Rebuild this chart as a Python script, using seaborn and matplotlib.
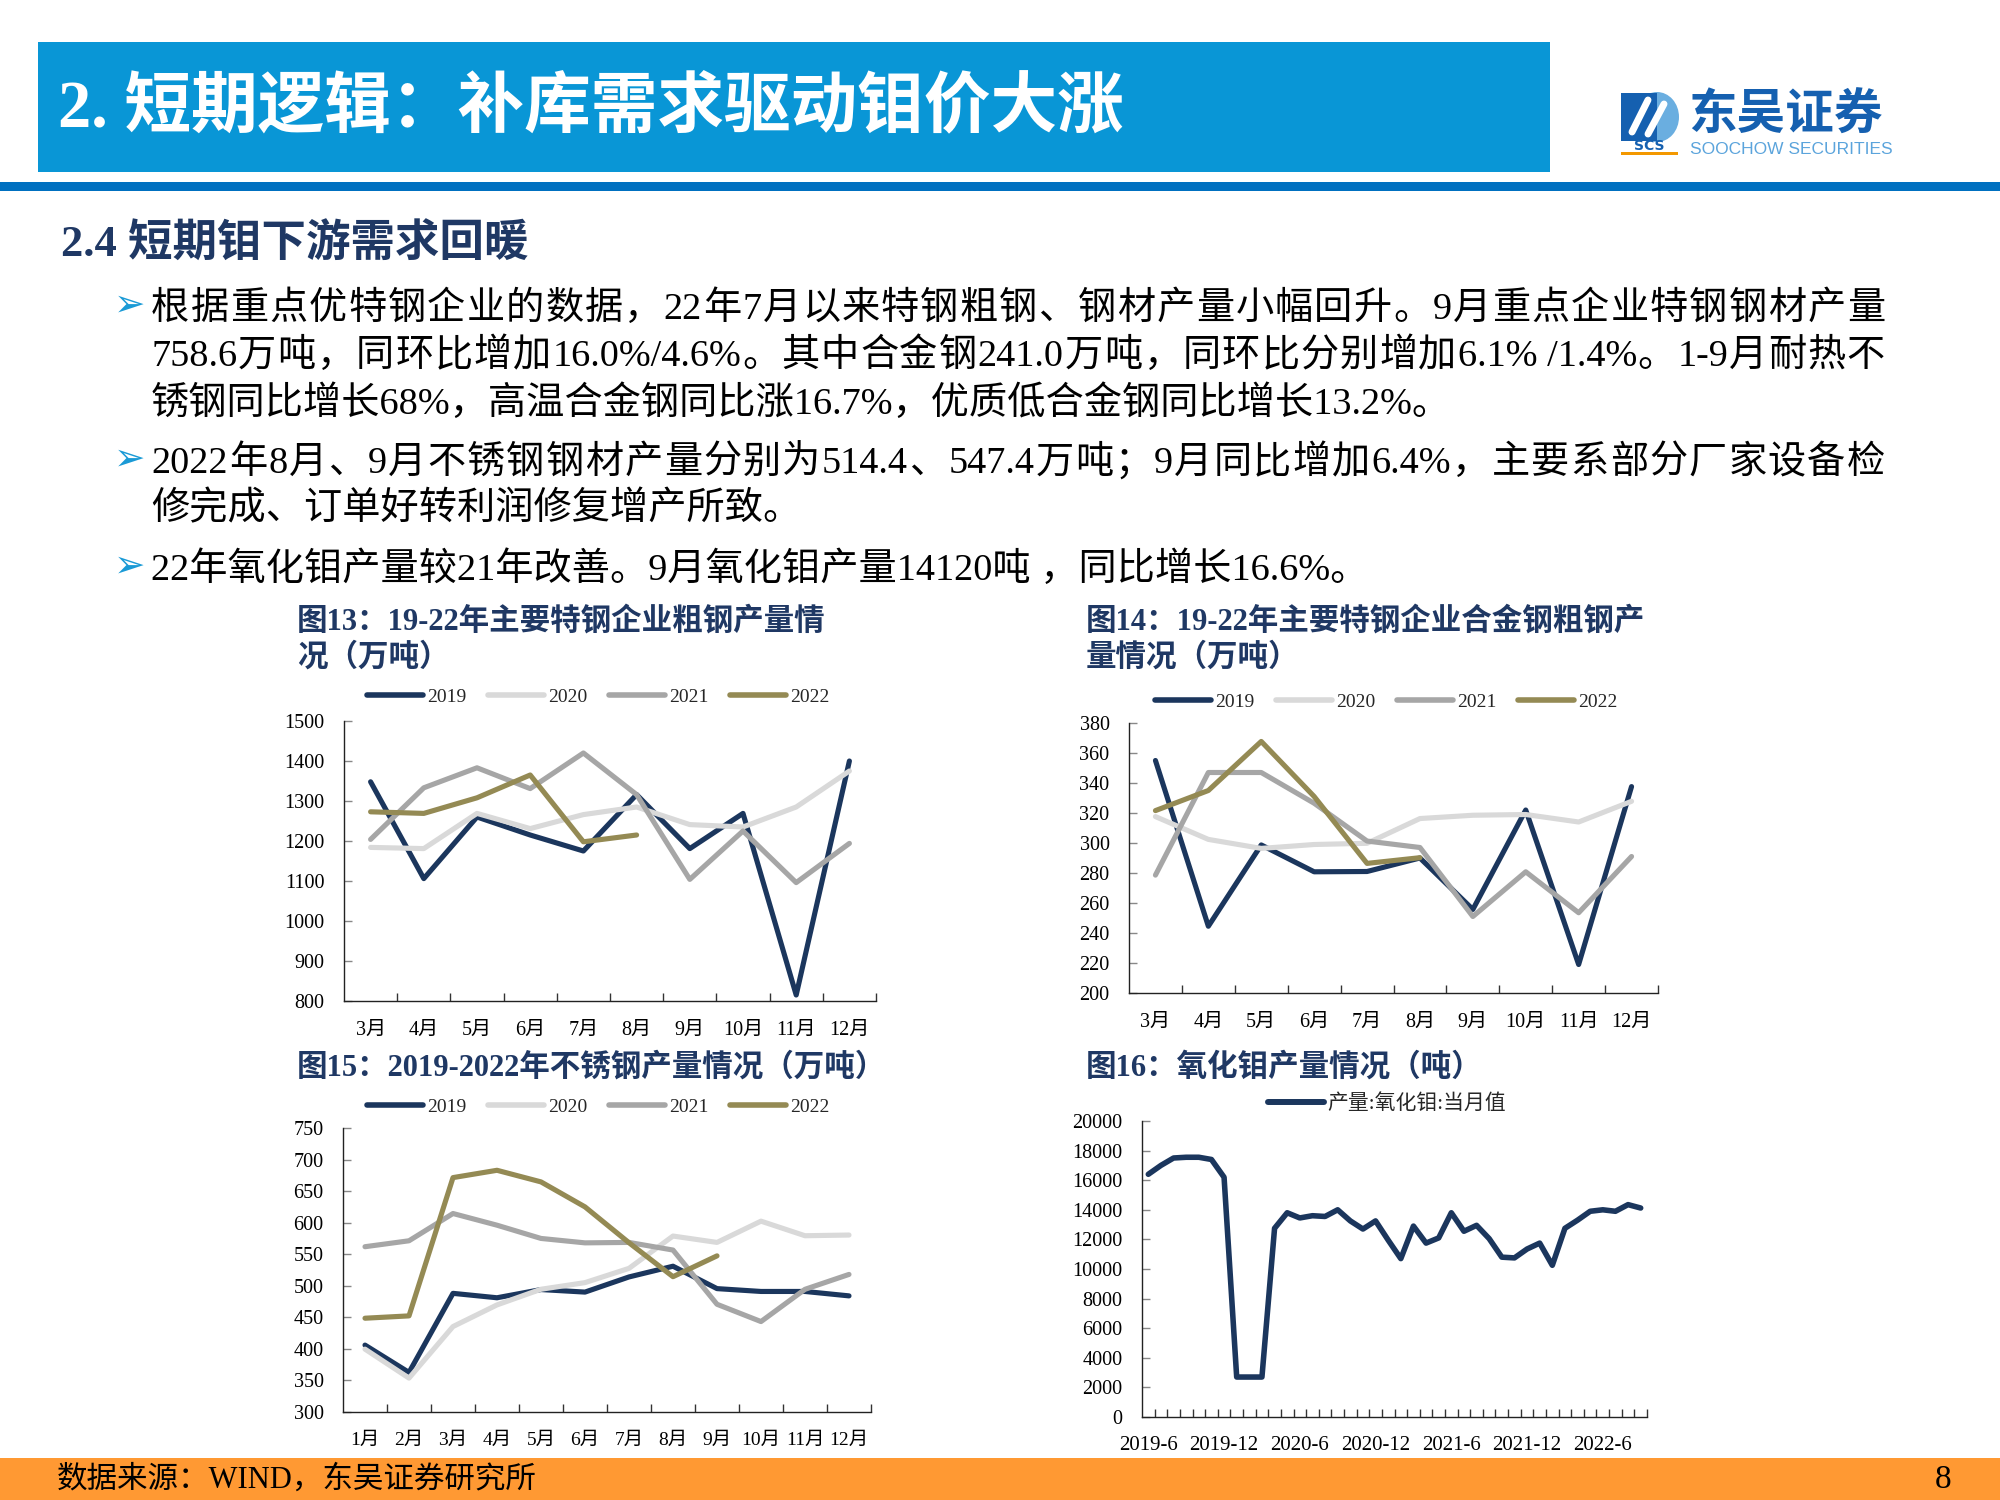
import re
import numpy as np
import pandas as pd
import matplotlib
matplotlib.use('Agg')
import matplotlib.pyplot as plt
import seaborn as sns
from matplotlib.font_manager import FontProperties
from matplotlib.patches import Rectangle, Ellipse
from matplotlib.lines import Line2D

sns.set_theme(style='white')
FAM = ['Liberation Serif', 'Noto Sans CJK SC', 'DejaVu Sans']
plt.rcParams['font.family'] = FAM
plt.rcParams['axes.unicode_minus'] = False

# ---------------- data ----------------
years = ['2019', '2020', '2021', '2022']
year_colors = {'2019': '#1B365D', '2020': '#D9D9D9', '2021': '#A6A6A6', '2022': '#948A54'}

months_mar_dec = ['3月', '4月', '5月', '6月', '7月', '8月', '9月', '10月', '11月', '12月']
crude_2019 = [1348, 1106, 1260, 1215, 1175, 1316, 1181, 1269, 815, 1400]
crude_2020 = [1184, 1181, 1269, 1231, 1266, 1285, 1241, 1235, 1285, 1375]
crude_2021 = [1204, 1333, 1383, 1331, 1420, 1316, 1104, 1225, 1096, 1194]
crude_2022 = [1273, 1269, 1308, 1365, 1198, 1215]

alloy_2019 = [355, 244.5, 298.7, 280.8, 281, 290, 255.7, 322, 219, 337.6]
alloy_2020 = [317.6, 302.4, 296.4, 299, 299.8, 316.3, 318.5, 319, 314, 327.8]
alloy_2021 = [278.6, 347, 347, 326.5, 301.3, 297, 251, 280.8, 253.5, 291]
alloy_2022 = [321.6, 335, 367.7, 331, 286.4, 290.2]

months_jan_dec = ['1月', '2月', '3月', '4月', '5月', '6月', '7月', '8月', '9月', '10月', '11月', '12月']
stainless_2019 = [406, 362.7, 488, 481, 494, 490, 514, 531, 495.5, 491, 491, 484]
stainless_2020 = [399.6, 353.7, 435.4, 469.7, 494.5, 505, 527.6, 578.8, 568.7, 602.4, 579.3, 580.4]
stainless_2021 = [561.9, 571.3, 614.5, 596, 575, 568, 568.7, 556.6, 470.7, 443.3, 494.4, 518]
stainless_2022 = [448.6, 452.3, 671.4, 683, 664.6, 625, 568.2, 514.4, 547.4]

moo3_months = [str(p) for p in pd.period_range('2019-06', '2022-09', freq='M')]
moo3_output = [16400, 17000, 17500, 17550, 17550, 17400, 16200, 2700, 2700, 2700,
               12750, 13800, 13450, 13600, 13550, 14000, 13250, 12700, 13250, 11950,
               10700, 12900, 11750, 12100, 13800, 12550, 12950, 12050, 10800, 10750,
               11350, 11750, 10250, 12750, 13300, 13900, 14000, 13900, 14350, 14120]
moo3_tick_labels = ['2019-6', '2019-12', '2020-6', '2020-12', '2021-6', '2021-12', '2022-6']
moo3_tick_months = ['2019-06', '2019-12', '2020-06', '2020-12', '2021-06', '2021-12', '2022-06']

# ---------------- figure ----------------
W, H = 2000, 1500
fig = plt.figure(figsize=(20, 15), dpi=100)
fig.patch.set_facecolor('white')


def fx(x):
    return x / W


def fy(y):
    return 1 - y / H


def rect(l, t, r, b):
    return [l / W, 1 - b / H, (r - l) / W, (b - t) / H]


NAVY_T = '#1F3864'

# header
fig.add_artist(Rectangle((fx(38), fy(172)), (1550 - 38) / W, (172 - 42) / H,
                         transform=fig.transFigure, color='#0996D6', lw=0))
fig.add_artist(Rectangle((0, fy(191)), 1, 9 / H, transform=fig.transFigure,
                         color='#0070C0', lw=0))
fig.text(fx(58), fy(108), '2. 短期逻辑：补库需求驱动钼价大涨', fontsize=48,
         color='white', weight='bold', va='center', ha='left')

# logo
fig.add_artist(Ellipse((fx(1657), fy(117)), 44 / W, 50 / H, transform=fig.transFigure,
                       color='#6AAEE0', lw=0))
fig.add_artist(Rectangle((fx(1621), fy(141)), 36 / W, 48 / H, transform=fig.transFigure,
                         color='#1560B0', lw=0))
fig.add_artist(Line2D([fx(1632), fx(1648)], [fy(132), fy(100)], transform=fig.transFigure,
                      color='white', lw=5, solid_capstyle='round'))
fig.add_artist(Line2D([fx(1648), fx(1664)], [fy(134), fy(104)], transform=fig.transFigure,
                      color='white', lw=5, solid_capstyle='round'))
fig.text(fx(1649), fy(146), 'SCS', fontsize=10, weight='bold', color='#1560B0',
         ha='center', va='center', family=['DejaVu Sans'])
fig.add_artist(Rectangle((fx(1621), fy(155)), 57 / W, 3 / H, transform=fig.transFigure,
                         color='#F39800', lw=0))
fig.text(fx(1688), fy(115), '东吴证券', fontsize=35, weight='bold', color='#1560B0',
         ha='left', va='center', family=['Noto Sans CJK SC'])
fig.text(fx(1690), fy(149), 'SOOCHOW SECURITIES', fontsize=12.5, color='#5BA4DC',
         ha='left', va='center', family=['Liberation Sans', 'DejaVu Sans'])

# section heading
fig.text(fx(61), fy(257), '2.4 短期钼下游需求回暖', fontsize=32, weight='bold',
         color=NAVY_T, va='baseline', ha='left')

BODY = 27.5
renderer = fig.canvas.get_renderer()
body_prop = FontProperties(family=FAM, size=BODY)


def tw(s):
    return renderer.get_text_width_height_descent(s, body_prop, ismath=False)[0]


def body_line(text, x0, base, x1=None):
    if x1 is None:
        fig.text(fx(x0), fy(base), text, fontsize=BODY, color='black',
                 va='baseline', ha='left')
        return
    tokens = re.findall(r'[\x00-\x7f]+|[^\x00-\x7f]', text)
    total = tw(text)
    extra = (x1 - x0 - total) / (len(tokens) - 1)
    acc = ''
    for j, tok in enumerate(tokens):
        xj = x0 + (tw(acc) if acc else 0) + j * extra
        fig.text(fx(xj), fy(base), tok, fontsize=BODY, color='black',
                 va='baseline', ha='left')
        acc += tok


def bullet(center_y):
    fig.text(fx(114), fy(center_y), '➢', fontsize=27, color='#1A9AD6',
             va='center', ha='left', family=['DejaVu Sans'])


TX0, TX1 = 151, 1885
bullet(306)
body_line('根据重点优特钢企业的数据，22年7月以来特钢粗钢、钢材产量小幅回升。9月重点企业特钢钢材产量', TX0, 319, TX1)
body_line('758.6万吨，同环比增加16.0%/4.6%。其中合金钢241.0万吨，同环比分别增加6.1% /1.4%。1-9月耐热不', TX0, 366, TX1)
body_line('锈钢同比增长68%，高温合金钢同比涨16.7%，优质低合金钢同比增长13.2%。', TX0, 414)
bullet(460)
body_line('2022年8月、9月不锈钢钢材产量分别为514.4、547.4万吨；9月同比增加6.4%，主要系部分厂家设备检', TX0, 473, TX1)
body_line('修完成、订单好转利润修复增产所致。', TX0, 519)
bullet(567)
body_line('22年氧化钼产量较21年改善。9月氧化钼产量14120吨 ，同比增长16.6%。', TX0, 580)

# chart titles
TT = 22
fig.text(fx(297), fy(622), '图13：19-22年主要特钢企业粗钢产量情', fontsize=TT, weight='bold',
         color=NAVY_T, va='center', ha='left')
fig.text(fx(297), fy(658), '况（万吨）', fontsize=TT, weight='bold',
         color=NAVY_T, va='center', ha='left')
fig.text(fx(1086), fy(622), '图14：19-22年主要特钢企业合金钢粗钢产', fontsize=TT, weight='bold',
         color=NAVY_T, va='center', ha='left')
fig.text(fx(1086), fy(658), '量情况（万吨）', fontsize=TT, weight='bold',
         color=NAVY_T, va='center', ha='left')
fig.text(fx(297), fy(1068), '图15：2019-2022年不锈钢产量情况（万吨）', fontsize=TT, weight='bold',
         color=NAVY_T, va='center', ha='left')
fig.text(fx(1086), fy(1068), '图16：氧化钼产量情况（吨）', fontsize=TT, weight='bold',
         color=NAVY_T, va='center', ha='left')

LW = 3.7


def style_axes(ax, n, labels, label_pos, ylim, yticks, xfs, yfs=14.5):
    ax.set_xlim(-0.5, n - 0.5)
    ax.set_ylim(*ylim)
    ax.set_yticks(yticks)
    ax.set_xticks(label_pos)
    ax.set_xticklabels(labels, fontsize=xfs)
    ax.set_xticks(np.arange(0.5, n, 1), minor=True)
    ax.set_xlabel('')
    ax.set_ylabel('')
    for s in ['top', 'right']:
        ax.spines[s].set_visible(False)
    for s in ['left', 'bottom']:
        ax.spines[s].set_color('#222222')
        ax.spines[s].set_linewidth(1.0)
    ax.tick_params(axis='x', which='major', length=0, pad=14, labelsize=xfs, colors='black')
    ax.tick_params(axis='x', which='minor', length=6, width=1.0, direction='in',
                   color='#333333', bottom=True)
    ax.tick_params(axis='y', which='major', length=6, width=1.0, direction='in',
                   color='#888888', pad=14, labelsize=yfs, labelcolor='black', left=True)
    ax.set_facecolor('white')
    ax.grid(False)


def year_chart(rc, cats, series, ylim, yticks, legend_xy, xfs):
    ax = fig.add_axes(rc)
    rows = []
    for yr in years:
        for i, v in enumerate(series[yr]):
            rows.append({'pos': i, 'val': v, 'year': yr})
    df = pd.DataFrame(rows)
    sns.lineplot(data=df, x='pos', y='val', hue='year', hue_order=years, palette=year_colors,
                 linewidth=LW, ax=ax, legend=False, sort=False, estimator=None)
    for ln in ax.lines:
        ln.set_solid_joinstyle('round')
    n = len(cats)
    style_axes(ax, n, cats, np.arange(n), ylim, yticks, xfs)
    handles = [Line2D([], [], color=year_colors[y], lw=LW + 0.3, solid_capstyle='round') for y in years]
    fig.legend(handles, years, loc='center', bbox_to_anchor=(fx(legend_xy[0]), fy(legend_xy[1])),
               ncol=4, frameon=False, fontsize=14, handlelength=2.9, handletextpad=0.2,
               columnspacing=1.1, borderpad=0, borderaxespad=0)
    return ax


year_chart(rect(344, 721, 876, 1001), months_mar_dec,
           {'2019': crude_2019, '2020': crude_2020, '2021': crude_2021, '2022': crude_2022},
           (800, 1500), np.arange(800, 1501, 100), (598, 697), 14.5)

year_chart(rect(1129, 723, 1658, 993), months_mar_dec,
           {'2019': alloy_2019, '2020': alloy_2020, '2021': alloy_2021, '2022': alloy_2022},
           (200, 380), np.arange(200, 381, 20), (1386, 702), 14.5)

year_chart(rect(343, 1128, 871, 1412), months_jan_dec,
           {'2019': stainless_2019, '2020': stainless_2020, '2021': stainless_2021, '2022': stainless_2022},
           (300, 750), np.arange(300, 751, 50), (598, 1107), 14)

# chart 16
ax16 = fig.add_axes(rect(1142, 1121, 1647, 1417))
df16 = pd.DataFrame({'pos': np.arange(len(moo3_months)), 'month': moo3_months, 'val': moo3_output})
sns.lineplot(data=df16, x='pos', y='val', color='#1B365D', linewidth=4.0, ax=ax16, sort=False)
for ln in ax16.lines:
    ln.set_solid_joinstyle('round')
tick_pos = [moo3_months.index(m) for m in moo3_tick_months]
style_axes(ax16, len(moo3_months), moo3_tick_labels, tick_pos, (0, 20000),
           np.arange(0, 20001, 2000), 15)
fig.legend([Line2D([], [], color='#1B365D', lw=4.3)], ['产量:氧化钼:当月值'], loc='center',
           bbox_to_anchor=(fx(1387), fy(1104)), frameon=False, fontsize=15,
           handlelength=2.7, handletextpad=0.15, borderpad=0, borderaxespad=0)

# footer
fig.add_artist(Rectangle((0, 0), 1, (1500 - 1458) / H, transform=fig.transFigure,
                         color='#FF9933', lw=0))
fig.text(fx(57), fy(1480), '数据来源：WIND，东吴证券研究所', fontsize=22, color='black',
         va='center', ha='left')
fig.text(fx(1943), fy(1480), '8', fontsize=24, color='black', va='center', ha='center')

fig.savefig('out.png', dpi=100, facecolor='white')
